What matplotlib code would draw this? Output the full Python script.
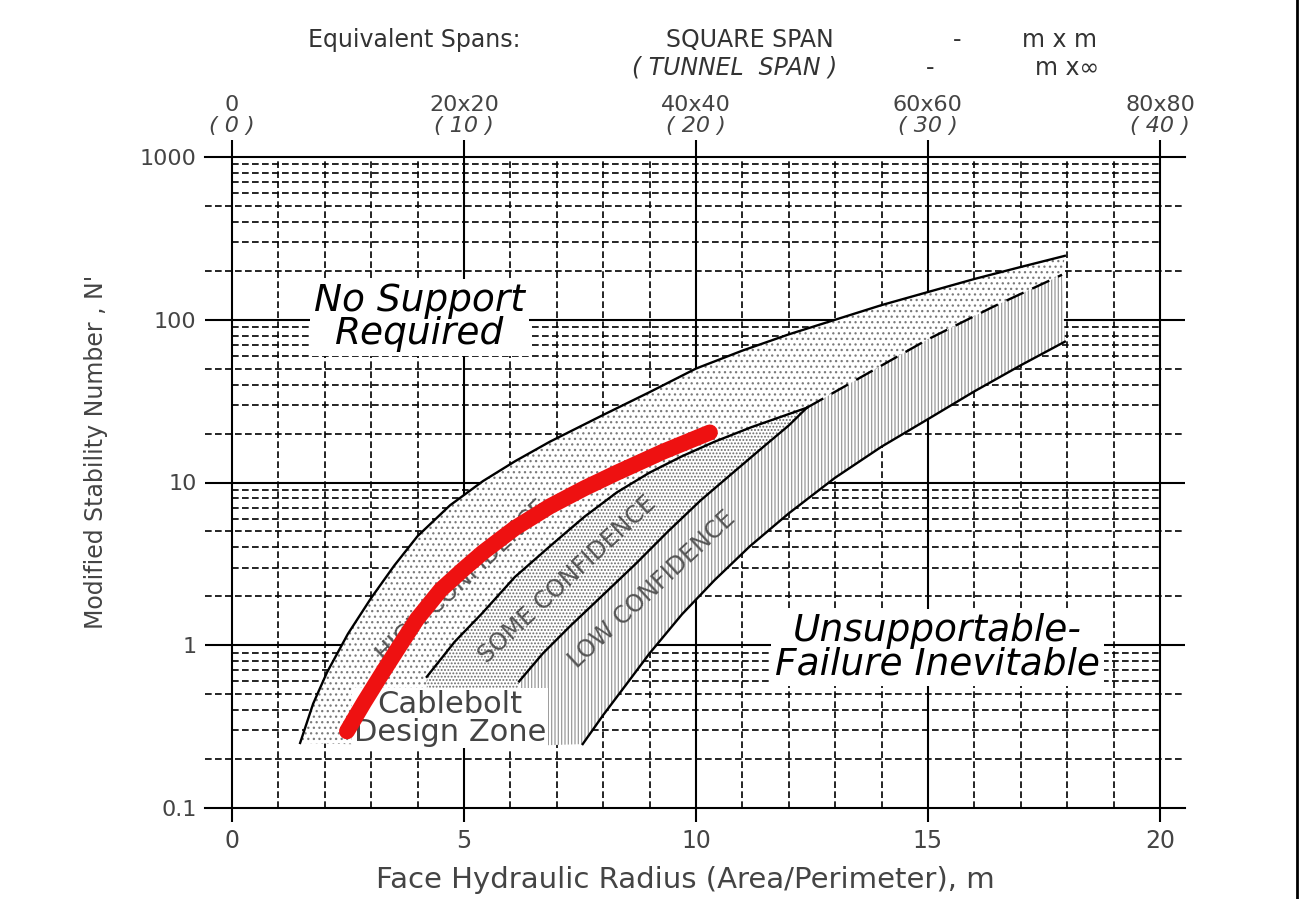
import numpy as np
import matplotlib.pyplot as plt
from matplotlib.patches import Polygon
from matplotlib.ticker import NullLocator

# axis ticks / labels
hr_ticks = [0, 5, 10, 15, 20]
hr_grid = list(range(1, 20))
n_decades = [0.1, 1, 10, 100, 1000]
n_labels = ['0.1', '1', '10', '100', '1000']
n_mult = [2, 3, 4, 5, 6, 7, 8, 9]
span_square = ['0', '20x20', '40x40', '60x60', '80x80']
span_tunnel = ['( 0 )', '( 10 )', '( 20 )', '( 30 )', '( 40 )']

# zone boundaries (hydraulic radius m, N')
upper_x = [1.47, 1.75, 2.05, 2.5, 3.0, 3.5, 4.0, 4.7, 5.41, 6.1, 6.85, 8.0, 9.0,
           10.0, 11.0, 12.0, 13.0, 14.0, 15.0, 16.0, 17.0, 17.95]
upper_n = [0.251, 0.437, 0.682, 1.175, 1.95, 3.09, 4.68, 7.24, 10.2, 13.5, 17.8, 26.0,
           35.9, 50.1, 64.6, 81.3, 100, 123, 148, 178, 211, 247]

high_x = [4.2, 4.8, 5.4, 6.1, 6.85, 7.6, 8.3, 9.0, 9.7, 10.4, 11.2, 12.39]
high_n = [0.64, 1.05, 1.58, 2.63, 4.05, 6.17, 8.71, 11.5, 14.5, 17.8, 21.9, 28.8]

some_x = [6.19, 6.7, 7.3, 8.0, 8.7, 9.4, 10.1, 10.8, 11.5, 12.0, 12.39]
some_n = [0.60, 0.89, 1.32, 2.04, 3.16, 5.01, 7.76, 11.5, 17.0, 22.4, 28.8]

low_x = [7.56, 8.0, 8.5, 9.0, 9.7, 10.4, 11.16, 12.0, 13.0, 14.0, 15.0, 16.0, 17.0, 17.95]
low_n = [0.247, 0.372, 0.575, 0.891, 1.55, 2.51, 4.05, 6.46, 10.7, 16.6, 24.5, 36.3,
         52.5, 73.3]

dash_x = [12.39, 13.7, 14.98, 16.4, 17.89]
dash_n = [28.8, 46.8, 75.3, 120, 189]

zone_floor = 0.24

# red design curve
red_x = [2.48, 2.85, 3.25, 3.6, 3.99, 4.5, 5.0, 5.41, 6.1, 6.85, 7.6, 8.3, 9.3, 10.3]
red_n = [0.296, 0.447, 0.682, 0.977, 1.45, 2.19, 2.95, 3.72, 5.25, 7.13, 9.23, 11.5,
         15.5, 20.3]

plt.rcParams['hatch.linewidth'] = 0.9

fig = plt.figure(figsize=(13.04, 8.99), dpi=100)
ax = fig.add_axes([205/1304, 1-808/899, 980/1304, 651/899])
ax.set_yscale('log')
xlim = (-0.58, 20.54)
ax.set_xlim(*xlim)
ax.set_ylim(0.1, 1000)

# grid
dash = (0, (4, 2))
for x in hr_grid:
    if x % 5:
        ax.vlines(x, 0.1, 1000, colors='k', lw=1.2, linestyles=dash, zorder=1)
ax.vlines(hr_ticks, 0.1, 1000, colors='k', lw=1.5, zorder=1)
for d in n_decades[:-1]:
    for m in n_mult:
        if m in (2, 5):
            ax.hlines(d*m, xlim[0], xlim[1], colors='k', lw=1.2, linestyles=dash, zorder=1)
        else:
            ax.hlines(d*m, 0, 20, colors='k', lw=1.2, linestyles=dash, zorder=1)
ax.hlines(n_decades[1:-1], xlim[0], xlim[1], colors='k', lw=1.5, zorder=1)

# shaded zones
zone_a = list(zip(upper_x, upper_n)) + list(zip(dash_x, dash_n))[::-1] \
    + list(zip(high_x, high_n))[::-1] + [(high_x[0], zone_floor)]
zone_b = list(zip(high_x, high_n)) + list(zip(some_x, some_n))[::-1] \
    + [(some_x[0], zone_floor), (high_x[0], zone_floor)]
zone_c = list(zip(some_x, some_n)) + list(zip(dash_x[1:], dash_n[1:])) \
    + list(zip(low_x, low_n))[::-1] + [(some_x[0], zone_floor)]
ax.add_patch(Polygon(zone_a, closed=True, facecolor='white', edgecolor='#7a7a7a',
                     lw=0, hatch='...', zorder=2))
ax.add_patch(Polygon(zone_b, closed=True, facecolor='white', edgecolor='#6a6a6a',
                     lw=0, hatch='.....', zorder=2))
ax.add_patch(Polygon(zone_c, closed=True, facecolor='white', edgecolor='#9a9a9a',
                     lw=0, hatch='|||||', zorder=2))

for cx, cn in [(upper_x, upper_n), (high_x, high_n), (some_x, some_n), (low_x, low_n)]:
    ax.plot(cx, cn, color='k', lw=1.7, zorder=2.5)
ax.plot(dash_x, dash_n, color='k', lw=1.7, dashes=(8, 4), zorder=2.5)

ax.plot(red_x, red_n, color='#ee1111', lw=11.5, solid_capstyle='round', zorder=4)

# region labels
box = dict(facecolor='white', edgecolor='none', pad=3)
ax.text(4.05, 103, 'No Support\nRequired', fontsize=27, style='italic',
        ha='center', va='center', linespacing=0.9, bbox=box, zorder=3)
ax.text(15.2, 0.97, 'Unsupportable-\nFailure Inevitable', fontsize=27, style='italic',
        ha='center', va='center', linespacing=0.9, bbox=box, zorder=3)
ax.text(4.7, 0.356, 'Cablebolt\nDesign Zone', fontsize=22, color='#444444',
        ha='center', va='center', linespacing=0.95,
        bbox=dict(facecolor='white', edgecolor='none', pad=1), zorder=3)
for lx, ly, s in [(4.96, 2.47, 'HIGH CONFIDENCE'), (7.24, 2.54, 'SOME CONFIDENCE'),
                  (9.05, 2.21, 'LOW CONFIDENCE')]:
    ax.text(lx, ly, s, fontsize=17, color='#555555', rotation=43,
            rotation_mode='anchor', ha='center', va='center', zorder=3)

# axes styling
for s in ['left', 'right']:
    ax.spines[s].set_visible(False)
for s in ['top', 'bottom']:
    ax.spines[s].set_linewidth(1.5)
ax.set_xticks(hr_ticks)
ax.set_xticklabels([str(t) for t in hr_ticks])
ax.tick_params(axis='x', bottom=True, top=False, direction='out', length=10,
               width=1.5, labelsize=17, labelcolor='#444444', pad=5)
ax.yaxis.set_minor_locator(NullLocator())
ax.set_yticks(n_decades)
ax.set_yticklabels(n_labels)
ax.tick_params(axis='y', length=0, pad=6, labelsize=16, labelcolor='#444444')

ax2 = ax.twiny()
ax2.set_xlim(*xlim)
ax2.set_xticks(hr_ticks)
ax2.set_xticklabels([])
ax2.tick_params(axis='x', direction='out', length=12, width=1.5)
for s in ax2.spines.values():
    s.set_visible(False)

for t, sq, tu in zip(hr_ticks, span_square, span_tunnel):
    ax.annotate(sq, (t, 1), xycoords=('data', 'axes fraction'), xytext=(0, 52),
                textcoords='offset pixels', ha='center', va='center',
                fontsize=16, color='#444444')
    ax.annotate(tu, (t, 1), xycoords=('data', 'axes fraction'), xytext=(0, 31),
                textcoords='offset pixels', ha='center', va='center',
                fontsize=16, color='#444444', style='italic')

ax.set_xlabel('Face Hydraulic Radius (Area/Perimeter), m', fontsize=21, color='#444444',
              va='center')
ax.xaxis.set_label_coords(0.49, -0.111)
ax.set_ylabel("Modified Stability Number , N'", fontsize=17, color='#444444')
ax.yaxis.set_label_coords(-0.099, 0.547)

# header
hc = '#333333'
y1, y2 = 1-40/899, 1-68/899
fig.text(414/1304, y1, 'Equivalent Spans:', fontsize=17, color=hc, va='center', ha='center')
fig.text(750/1304, y1, 'SQUARE SPAN', fontsize=17, color=hc, va='center', ha='center')
fig.text(957/1304, y1, '-', fontsize=17, color=hc, va='center', ha='center')
fig.text(1060/1304, y1, 'm x m', fontsize=17, color=hc, va='center', ha='center')
fig.text(735/1304, y2, '( TUNNEL  SPAN )', fontsize=17, color=hc, va='center',
         ha='center', style='italic')
fig.text(930/1304, y2, '-', fontsize=17, color=hc, va='center', ha='center')
fig.text(1067/1304, y2, 'm x\u221e', fontsize=17, color=hc, va='center', ha='center')

fig.add_artist(plt.Line2D([1297/1304, 1297/1304], [0, 1], color='k', lw=2))

fig.savefig('out.png', dpi=100)
